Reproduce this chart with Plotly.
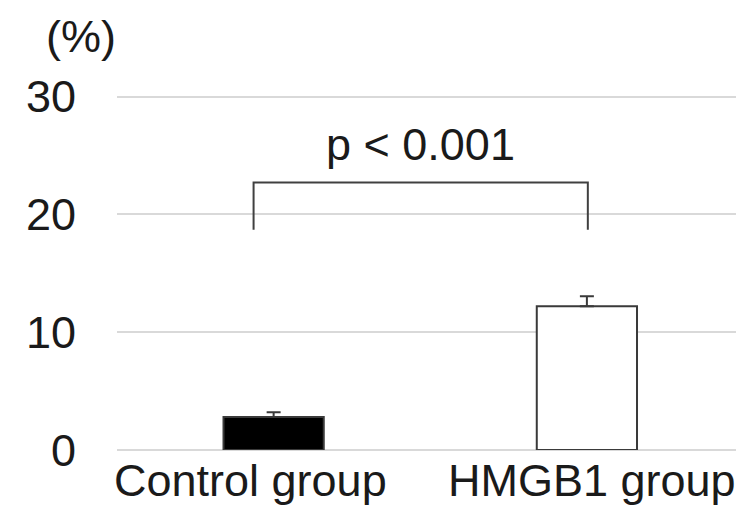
import plotly.graph_objects as go

# Data
categories = ["Control group", "HMGB1 group"]
means = [2.8, 12.2]
errors_up = [0.4, 0.85]
bar_colors = ["#000000", "#ffffff"]
y_ticks = [0, 10, 20, 30]
p_label = "p < 0.001"
bracket_y_low = 18.7
bracket_y_high = 22.7
bracket_x = [-0.064, 1.003]

FONT = "Liberation Sans, Arial, sans-serif"
TXT = "#1a1a1a"
SIZE = 45

W, H = 736, 508
M_L, M_R, M_T, M_B = 117, 0, 93, 58

x_pos = list(range(len(categories)))

fig = go.Figure()
fig.add_trace(go.Bar(
    x=x_pos,
    y=means,
    width=0.32,
    marker=dict(color=bar_colors, line=dict(color="#3a3a3a", width=2)),
    error_y=dict(type="data", array=errors_up, arrayminus=[0, 0], symmetric=False,
                 color="#3a3a3a", thickness=2, width=7),
    showlegend=False,
))

# significance bracket between the groups
fig.add_shape(
    type="path",
    xref="x", yref="y",
    path=(f"M {bracket_x[0]},{bracket_y_low} L {bracket_x[0]},{bracket_y_high} "
          f"L {bracket_x[1]},{bracket_y_high} L {bracket_x[1]},{bracket_y_low}"),
    line=dict(color="#404040", width=2),
)

fig.add_annotation(
    x=(bracket_x[0] + bracket_x[1]) / 2, y=bracket_y_high + 0.9,
    xref="x", yref="y", text=p_label, showarrow=False,
    yanchor="bottom", font=dict(family=FONT, size=SIZE, color=TXT),
)

# category labels under the bars
label_x = [-0.073, 1.016]
for lx, name in zip(label_x, categories):
    fig.add_annotation(
        x=lx, y=0, xref="x", yref="y", text=name, showarrow=False,
        yanchor="top", yshift=-3, font=dict(family=FONT, size=SIZE, color=TXT),
    )

# unit label above the y axis, positioned in pixels relative to the plot area
plot_w = W - M_L - M_R
plot_h = H - M_T - M_B
fig.add_annotation(
    x=(81 - M_L) / plot_w, y=(H - M_B - 37) / plot_h,
    xref="paper", yref="paper", text="(%)", showarrow=False,
    xanchor="center", yanchor="middle",
    font=dict(family=FONT, size=SIZE, color=TXT),
)

fig.update_layout(
    width=W, height=H,
    margin=dict(l=M_L, r=M_R, t=M_T, b=M_B),
    paper_bgcolor="white", plot_bgcolor="white",
    font=dict(family=FONT, size=SIZE, color=TXT),
    bargap=0.68,
    xaxis=dict(range=[-0.5, 1.476], showticklabels=False, showgrid=False,
               zeroline=False, showline=False, ticks=""),
    yaxis=dict(range=[0, 30.3], tickvals=y_ticks, showgrid=True, gridcolor="#d9d9d9",
               gridwidth=1.5, zeroline=True, zerolinecolor="#d9d9d9", zerolinewidth=1.5,
               showline=False, ticks="", ticklabelstandoff=40,
               tickfont=dict(family=FONT, size=SIZE, color=TXT)),
)

fig.write_html("out.html")
